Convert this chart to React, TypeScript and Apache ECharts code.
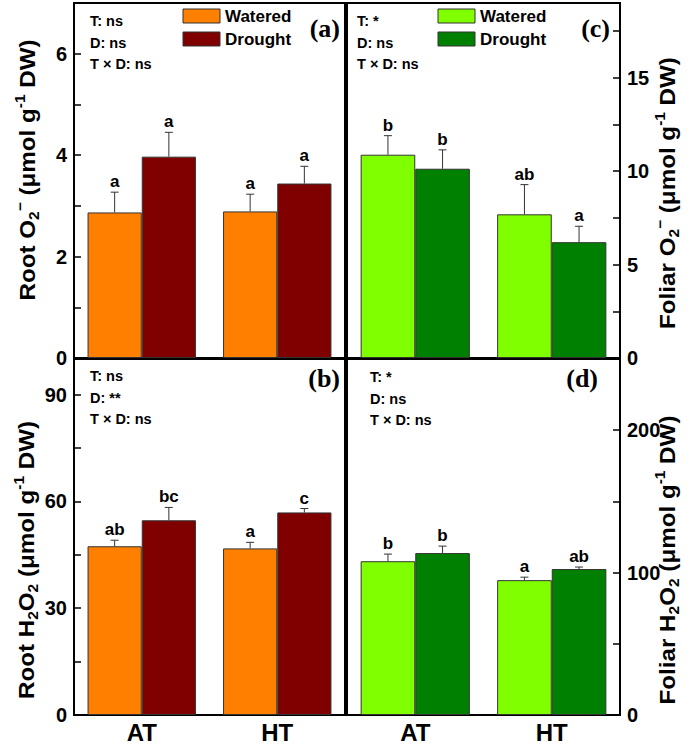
import React, { useEffect, useRef } from "react";
import * as echarts from "echarts";

const categories = ["AT", "HT"];

// (a) Root O2·−
const rootO2Watered = [2.87, 2.89];
const rootO2WateredErr = [0.4, 0.34];
const rootO2Drought = [3.97, 3.44];
const rootO2DroughtErr = [0.48, 0.34];
const rootO2LettersW = ["a", "a"];
const rootO2LettersD = ["a", "a"];

// (c) Foliar O2·−
const foliarO2Watered = [10.88, 7.69];
const foliarO2WateredErr = [1.02, 1.59];
const foliarO2Drought = [10.13, 6.2];
const foliarO2DroughtErr = [1.01, 0.85];
const foliarO2LettersW = ["b", "ab"];
const foliarO2LettersD = ["b", "a"];

// (b) Root H2O2
const rootH2O2Watered = [47.4, 46.8];
const rootH2O2WateredErr = [1.7, 1.7];
const rootH2O2Drought = [54.7, 56.9];
const rootH2O2DroughtErr = [3.6, 1.1];
const rootH2O2LettersW = ["ab", "a"];
const rootH2O2LettersD = ["bc", "c"];

// (d) Foliar H2O2
const foliarH2O2Watered = [108, 94.7];
const foliarH2O2WateredErr = [5, 2.1];
const foliarH2O2Drought = [113.7, 102.5];
const foliarH2O2DroughtErr = [4.9, 1.4];
const foliarH2O2LettersW = ["b", "a"];
const foliarH2O2LettersD = ["b", "ab"];

const statsA = ["T: ns", "D: ns", "T \u00d7 D: ns"];
const statsC = ["T: *", "D: ns", "T \u00d7 D: ns"];
const statsB = ["T: ns", "D: **", "T \u00d7 D: ns"];
const statsD = ["T: *", "D: ns", "T \u00d7 D: ns"];

const legendNames = ["Watered", "Drought"];

const FONT = '"Liberation Sans", Arial, Helvetica, sans-serif';
const SERIF = '"Liberation Serif", "Times New Roman", serif';

const ORANGE = "#FF8000";
const DARKRED = "#800000";
const LIGHTGREEN = "#80FF00";
const DARKGREEN = "#008000";

function barSeries(gi: number, name: string, data: number[], color: string) {
  return {
    type: "bar",
    name,
    xAxisIndex: gi,
    yAxisIndex: gi,
    data,
    barCategoryGap: "20%",
    barGap: "0%",
    itemStyle: { color, borderColor: "#333", borderWidth: 1 },
    z: 2,
  };
}

function errSeries(gi: number, values: number[], errs: number[], letters: string[], sign: number) {
  return {
    type: "custom",
    xAxisIndex: gi,
    yAxisIndex: gi,
    z: 5,
    data: values.map((v, i) => [i, v, v + errs[i]]),
    renderItem: (params: any, api: any) => {
      const band = api.size([1, 0])[0];
      const dx = sign * band * 0.2;
      const base = api.coord([api.value(0), api.value(1)]);
      const top = api.coord([api.value(0), api.value(2)]);
      const x = base[0] + dx;
      return {
        type: "group",
        children: [
          { type: "line", shape: { x1: x, y1: base[1], x2: x, y2: top[1] }, style: { stroke: "#333", lineWidth: 1 } },
          { type: "line", shape: { x1: x - 4, y1: top[1], x2: x + 4, y2: top[1] }, style: { stroke: "#333", lineWidth: 1 } },
          {
            type: "text",
            x,
            y: top[1] - 2,
            style: {
              text: letters[params.dataIndex],
              align: "center",
              verticalAlign: "bottom",
              fontSize: 17,
              fontWeight: "bold",
              fontFamily: FONT,
              fill: "#000",
            },
          },
        ],
      };
    },
  };
}

function yAxis(position: string, max: number, interval: number, labelEvery: number) {
  return {
    type: "value",
    position,
    min: 0,
    max,
    interval,
    axisLine: { show: true, lineStyle: { color: "#000", width: 2 } },
    axisTick: { show: true, inside: true, length: 7, lineStyle: { color: "#000", width: 1.5 } },
    splitLine: { show: false },
    axisLabel: {
      color: "#000",
      fontSize: 20,
      fontWeight: "bold",
      fontFamily: FONT,
      margin: 7,
      formatter: (v: number) => (Math.abs(v % labelEvery) < 1e-9 ? String(v) : ""),
    },
  };
}

function xAxis(gi: number, showLabels: boolean) {
  return {
    type: "category",
    gridIndex: gi,
    data: categories,
    axisLine: { show: true, lineStyle: { color: "#000", width: 2 } },
    axisTick: { show: false },
    axisLabel: {
      show: showLabels,
      color: "#000",
      fontSize: 24,
      fontWeight: "bold",
      fontFamily: FONT,
      margin: 5,
    },
  };
}

const rich = {
  m: { fontSize: 22, fontWeight: "bold", fontFamily: FONT, lineHeight: 28, color: "#000" },
  sub: { fontSize: 14, fontWeight: "bold", fontFamily: FONT, lineHeight: 13, verticalAlign: "bottom", color: "#000" },
  sup: { fontSize: 14, fontWeight: "bold", fontFamily: FONT, lineHeight: 13, verticalAlign: "top", color: "#000" },
};

function axisName(x: number, y: number, text: string) {
  return {
    type: "text",
    x,
    y,
    rotation: Math.PI / 2,
    scaleX: 1.1,
    style: { text, rich, align: "center", verticalAlign: "middle", fill: "#000" },
  };
}

function stats(x: number, y0: number, lines: string[]) {
  return lines.map((t, i) => ({
    type: "text",
    x,
    y: y0 + i * 21.5,
    style: { text: t, fontSize: 14.5, fontWeight: "bold", fontFamily: FONT, fill: "#000", align: "left", verticalAlign: "middle" },
  }));
}

function legend(x: number, y: number, colors: string[]) {
  const out: any[] = [];
  colors.forEach((c, i) => {
    out.push({
      type: "rect",
      shape: { x, y: y + i * 23, width: 37, height: 14 },
      style: { fill: c, stroke: "#333", lineWidth: 1 },
    });
    out.push({
      type: "text",
      x: x + 42,
      y: y + i * 23 + 7,
      style: { text: legendNames[i], fontSize: 17, fontWeight: "bold", fontFamily: FONT, fill: "#000", align: "left", verticalAlign: "middle" },
    });
  });
  return out;
}

function panelLabel(xr: number, y: number, t: string) {
  return {
    type: "text",
    x: xr,
    y,
    style: { text: t, fontSize: 26, fontWeight: "bold", fontFamily: SERIF, fill: "#000", align: "right", verticalAlign: "middle" },
  };
}

export default function App() {
  const ref = useRef<HTMLDivElement>(null);
  useEffect(() => {
    if (!ref.current) return;
    const chart = echarts.init(ref.current, undefined, { renderer: "svg" });
    const gridBase = { show: true, borderColor: "#000", borderWidth: 2, backgroundColor: "transparent", containLabel: false };
    const option: any = {
      animation: false,
      backgroundColor: "#fff",
      grid: [
        { ...gridBase, left: 74, top: 3, width: 271, height: 355 },
        { ...gridBase, left: 347, top: 3, width: 273, height: 355 },
        { ...gridBase, left: 74, top: 359, width: 271, height: 356 },
        { ...gridBase, left: 347, top: 359, width: 273, height: 356 },
      ],
      xAxis: [xAxis(0, false), xAxis(1, false), xAxis(2, true), xAxis(3, true)],
      yAxis: [
        { ...yAxis("left", 7, 1, 2), gridIndex: 0 },
        { ...yAxis("right", 19, 2.5, 5), gridIndex: 1 },
        { ...yAxis("left", 100, 15, 30), gridIndex: 2 },
        { ...yAxis("right", 250, 50, 100), gridIndex: 3 },
      ],
      series: [
        barSeries(0, "Watered", rootO2Watered, ORANGE),
        barSeries(0, "Drought", rootO2Drought, DARKRED),
        errSeries(0, rootO2Watered, rootO2WateredErr, rootO2LettersW, -1),
        errSeries(0, rootO2Drought, rootO2DroughtErr, rootO2LettersD, 1),
        barSeries(1, "Watered", foliarO2Watered, LIGHTGREEN),
        barSeries(1, "Drought", foliarO2Drought, DARKGREEN),
        errSeries(1, foliarO2Watered, foliarO2WateredErr, foliarO2LettersW, -1),
        errSeries(1, foliarO2Drought, foliarO2DroughtErr, foliarO2LettersD, 1),
        barSeries(2, "Watered", rootH2O2Watered, ORANGE),
        barSeries(2, "Drought", rootH2O2Drought, DARKRED),
        errSeries(2, rootH2O2Watered, rootH2O2WateredErr, rootH2O2LettersW, -1),
        errSeries(2, rootH2O2Drought, rootH2O2DroughtErr, rootH2O2LettersD, 1),
        barSeries(3, "Watered", foliarH2O2Watered, LIGHTGREEN),
        barSeries(3, "Drought", foliarH2O2Drought, DARKGREEN),
        errSeries(3, foliarH2O2Watered, foliarH2O2WateredErr, foliarH2O2LettersW, -1),
        errSeries(3, foliarH2O2Drought, foliarH2O2DroughtErr, foliarH2O2LettersD, 1),
      ],
      graphic: [
        axisName(27, 170, "{m|Root O}{sub|2}{sup|\u2212}{m| (\u03bcmol g}{sup|-1}{m| DW)}"),
        axisName(26, 560, "{m|Root H}{sub|2}{m|O}{sub|2}{m| (\u03bcmol g}{sup|-1}{m| DW)}"),
        axisName(667, 193, "{m|Foliar O}{sub|2}{sup|\u2212}{m| (\u03bcmol g}{sup|-1}{m| DW)}"),
        axisName(667, 560, "{m|Foliar H}{sub|2}{m|O}{sub|2}{m| (\u03bcmol g}{sup|-1}{m| DW)}"),
        ...stats(90, 21, statsA),
        ...stats(357, 21, statsC),
        ...stats(90, 376, statsB),
        ...stats(370, 377, statsD),
        ...legend(183, 9, [ORANGE, DARKRED]),
        ...legend(438, 9, [LIGHTGREEN, DARKGREEN]),
        panelLabel(340, 28, "(a)"),
        panelLabel(610, 28, "(c)"),
        panelLabel(340, 378, "(b)"),
        panelLabel(598, 378, "(d)"),
      ],
    };
    chart.setOption(option);
    return () => chart.dispose();
  }, []);
  return <div ref={ref} style={{ position: "absolute", left: 0, top: 0, width: 697, height: 745 }} />;
}
